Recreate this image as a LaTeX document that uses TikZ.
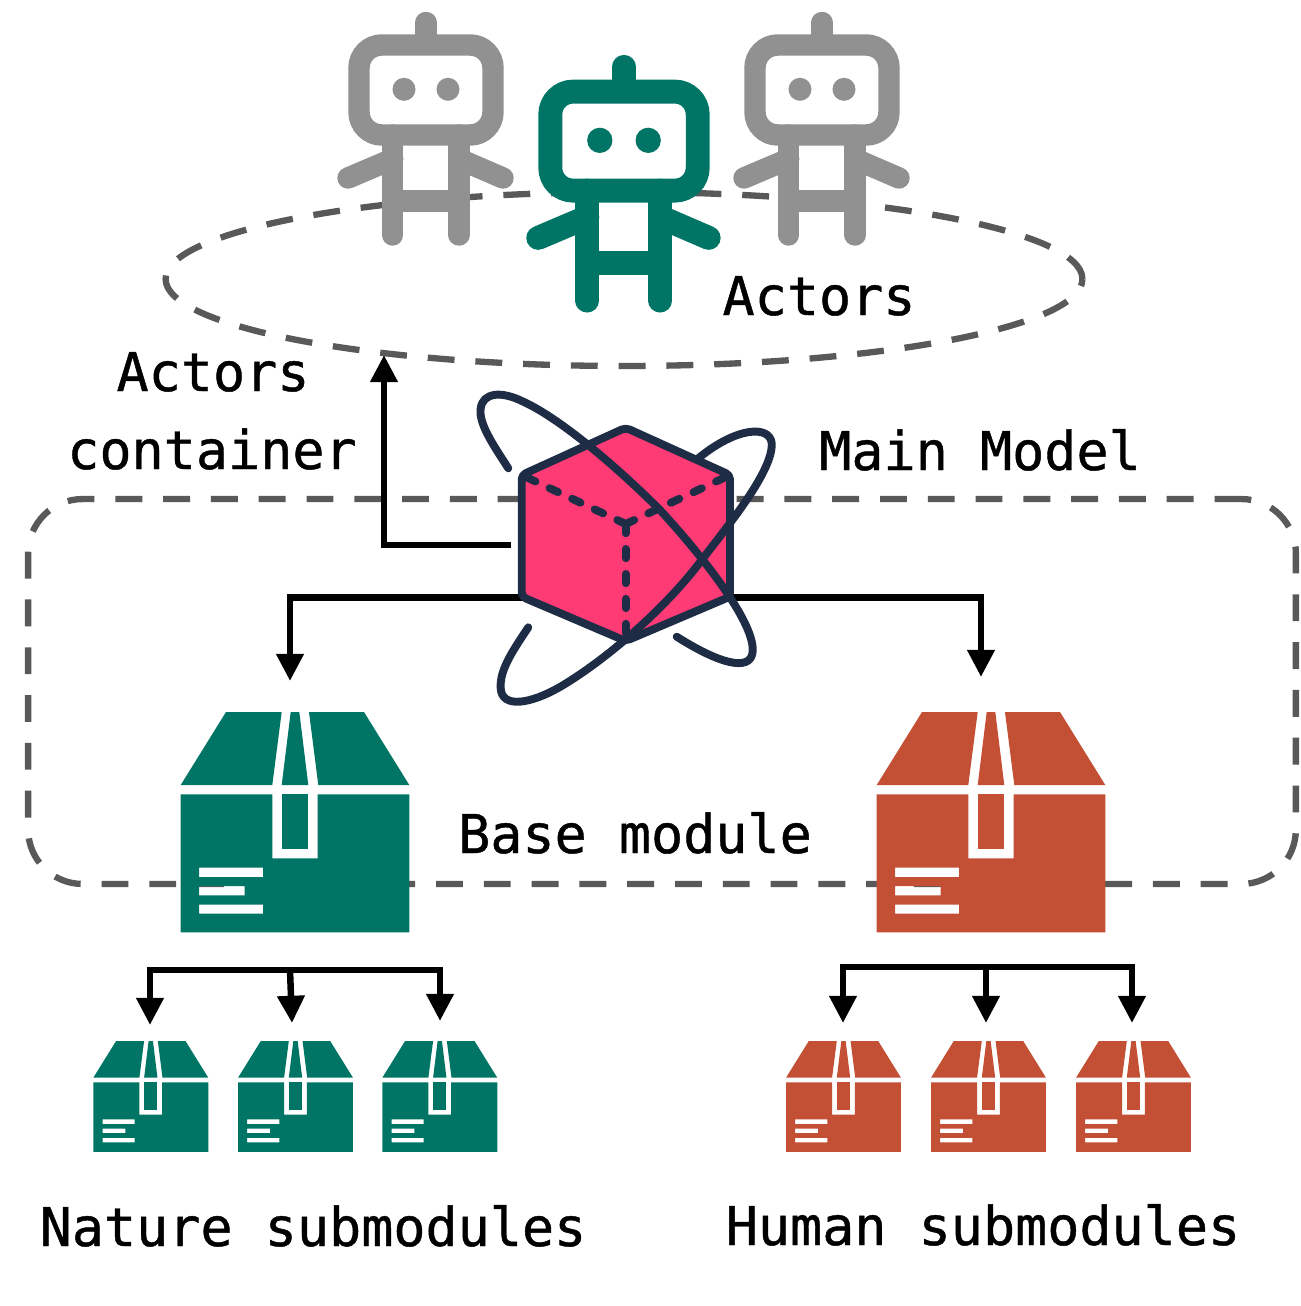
\documentclass[tikz,border=0pt]{standalone}
\usepackage{fontspec}
\setmainfont[FakeBold=0.8]{DejaVu Sans Mono}
\usetikzlibrary{arrows.meta,shapes.geometric}
\definecolor{teal}{HTML}{007566}
\definecolor{rust}{HTML}{C34F35}
\definecolor{robotgrey}{HTML}{919191}
\definecolor{dashgrey}{HTML}{595959}
\definecolor{cubepink}{HTML}{FF3B76}
\definecolor{cubenavy}{HTML}{1E2D45}
\tikzset{
  flow/.style={line width=3.7pt, -{Triangle[width=15pt,length=15.5pt]}},
  dashline/.style={draw=dashgrey, line width=3.6pt, dash pattern=on 15.3pt off 11.9pt, inner sep=0pt},
  label/.style={anchor=base, inner sep=0pt, font=\fontsize{30.4}{36}\selectfont},
  greybot/.style={color=robotgrey, line width=12.2pt},
  tealbot/.style={color=teal, line width=13.6pt, scale=1.1},
  cubeline/.style={draw=cubenavy, line width=4.5pt, line cap=round, line join=round},
  cubedash/.style={cubeline, dash pattern=on 5.3pt off 8.9pt},
  smallbox/.style={scale=0.503},
  pics/robot/.style={code={
    \draw[line cap=round] (0,10.5) -- (0,25);
    \draw[fill=white, rounded corners=13pt] (-67,33) rectangle (67,123);
    \fill (-22,77.3) circle (11.5);
    \fill (22,77.3) circle (11.5);
    \draw[line cap=round] (-33.3,123) -- (-33.3,223);
    \draw[line cap=round] (33,123) -- (33,223);
    \draw (-33.3,189.2) -- (33,189.2);
    \draw[line cap=round] (-33.3,147) -- (-78,166);
    \draw[line cap=round] (33,147) -- (77,166);
  }},
  pics/parcel/.style={code={
    \fill (45.3,0) -- (101,0) -- (91.6,73) -- (0,73) -- cycle;
    \fill (110,0) -- (118.6,0) -- (127.6,73) -- (101,73) -- cycle;
    \fill (128.3,0) -- (183.3,0) -- (228.6,73) -- (137.6,73) -- cycle;
    \fill[even odd rule] (0,82.3) -- (91.6,82.3) -- (91.6,146.3) -- (137,146.3) -- (137,82.3)
      -- (228.6,82.3) -- (228.6,220.3) -- (0,220.3) -- cycle
      (18.3,155.7) rectangle (82.3,165)
      (18.3,174) rectangle (64,183.3)
      (18.3,192.7) rectangle (82.3,201.7);
    \fill (101,82.3) rectangle (127.6,137.3);
  }},
}
\begin{document}
\begin{tikzpicture}[x=0.02cm,y=-0.02cm]
  \useasboundingbox (0,0) rectangle (1301,1306);
  \node[dashline, ellipse, minimum width=18.34cm, minimum height=3.48cm] (actorsRing) at (624,279) {};
  \node[dashline, rounded corners=31pt, minimum width=25.36cm, minimum height=7.7cm] (baseFrame) at (662,691.5) {};

  \pic (robotLeft) [greybot] at (426,12) {robot};
  \pic (robotRight) [greybot] at (822,12) {robot};
  \pic (robotMid) [tealbot] at (624,55.3) {robot};

  \node[minimum width=4.44cm, minimum height=2.08cm, inner sep=0pt] (mainModel) at (622,545) {};
  \coordinate (actorsTip) at (384,355);
  \coordinate (natureTip) at (290,681);
  \coordinate (humanTip) at (981,677);
  \draw[flow] (mainModel.west) -| (actorsTip);
  \draw[flow] (mainModel.south) -| (natureTip);
  \draw[flow] (mainModel.south) -| (humanTip);

  % cube
  \coordinate (cubeTop) at (625.7,427.7);
  \coordinate (cubeUL) at (521.7,475);
  \coordinate (cubeLL) at (521.7,596.7);
  \coordinate (cubeBot) at (625.7,641);
  \coordinate (cubeLR) at (730,596.7);
  \coordinate (cubeUR) at (730,475);
  \coordinate (cubeMid) at (625.7,524);
  \draw[cubeline, fill=cubepink, rounded corners=2.5pt] (cubeTop) -- (cubeUR) -- (cubeLR) -- (cubeBot) -- (cubeLL) -- (cubeUL) -- cycle;
  \draw[cubedash] (cubeMid) -- (cubeUL);
  \draw[cubedash] (cubeMid) -- (cubeUR);
  \draw[cubedash] (cubeMid) -- (cubeBot);
  \draw[cubeline] (508.3,468.3) .. controls (493.3,445) and (478.3,423.3) .. (480.7,408.3)
    .. controls (482.7,393.3) and (500,390) .. (523.3,401.7)
    .. controls (560,418.3) and (616.7,466.7) .. (660,510)
    .. controls (700,553.3) and (753.3,620) .. (752.7,650)
    .. controls (752.7,670) and (726.7,668.3) .. (676.7,636.7);
  \draw[cubeline] (528.3,627.3) .. controls (513.3,650) and (499.3,670) .. (500.7,688.3)
    .. controls (501.7,708.3) and (530,705) .. (563.3,685)
    .. controls (610,656.7) and (666.7,606.7) .. (701.7,560)
    .. controls (730,523.3) and (773.3,470) .. (771.7,443.3)
    .. controls (770,425) and (736.7,426.7) .. (698.3,458.3);

  \pic (natureBase) [color=teal] at (180.7,712) {parcel};
  \pic (humanBase) [color=rust] at (876.7,712) {parcel};
  \pic (natureA) [color=teal, smallbox] at (93.3,1041) {parcel};
  \pic (natureB) [color=teal, smallbox] at (238,1041) {parcel};
  \pic (natureC) [color=teal, smallbox] at (382.3,1041) {parcel};
  \pic (humanA) [color=rust, smallbox] at (786,1041) {parcel};
  \pic (humanB) [color=rust, smallbox] at (931,1041) {parcel};
  \pic (humanC) [color=rust, smallbox] at (1076,1041) {parcel};

  \coordinate (natureBar) at (290,970);
  \coordinate (natureTipA) at (150,1025);
  \coordinate (natureTipB) at (292,1023);
  \coordinate (natureTipC) at (440,1021);
  \draw[flow] (natureBar) -| (natureTipA);
  \draw[flow] (natureBar) -- (natureTipB);
  \draw[flow] (natureBar) -| (natureTipC);
  \coordinate (humanBar) at (986,967);
  \coordinate (humanTipA) at (843,1023);
  \coordinate (humanTipB) at (986,1023);
  \coordinate (humanTipC) at (1132,1023);
  \draw[flow] (humanBar) -| (humanTipA);
  \draw[flow] (humanBar) -- (humanTipB);
  \draw[flow] (humanBar) -| (humanTipC);

  \node[label] (actorsLabel) at (819,315) {Actors};
  \node[label] (containerTop) at (213,391) {Actors};
  \node[label] (containerBot) at (212,469) {container};
  \node[label] (mainLabel) at (980,470) {Main Model};
  \node[label] (baseLabel) at (635,853) {Base module};
  \node[label] (natureLabel) at (313,1246) {Nature submodules};
  \node[label] (humanLabel) at (983,1245) {Human submodules};
\end{tikzpicture}
\end{document}
